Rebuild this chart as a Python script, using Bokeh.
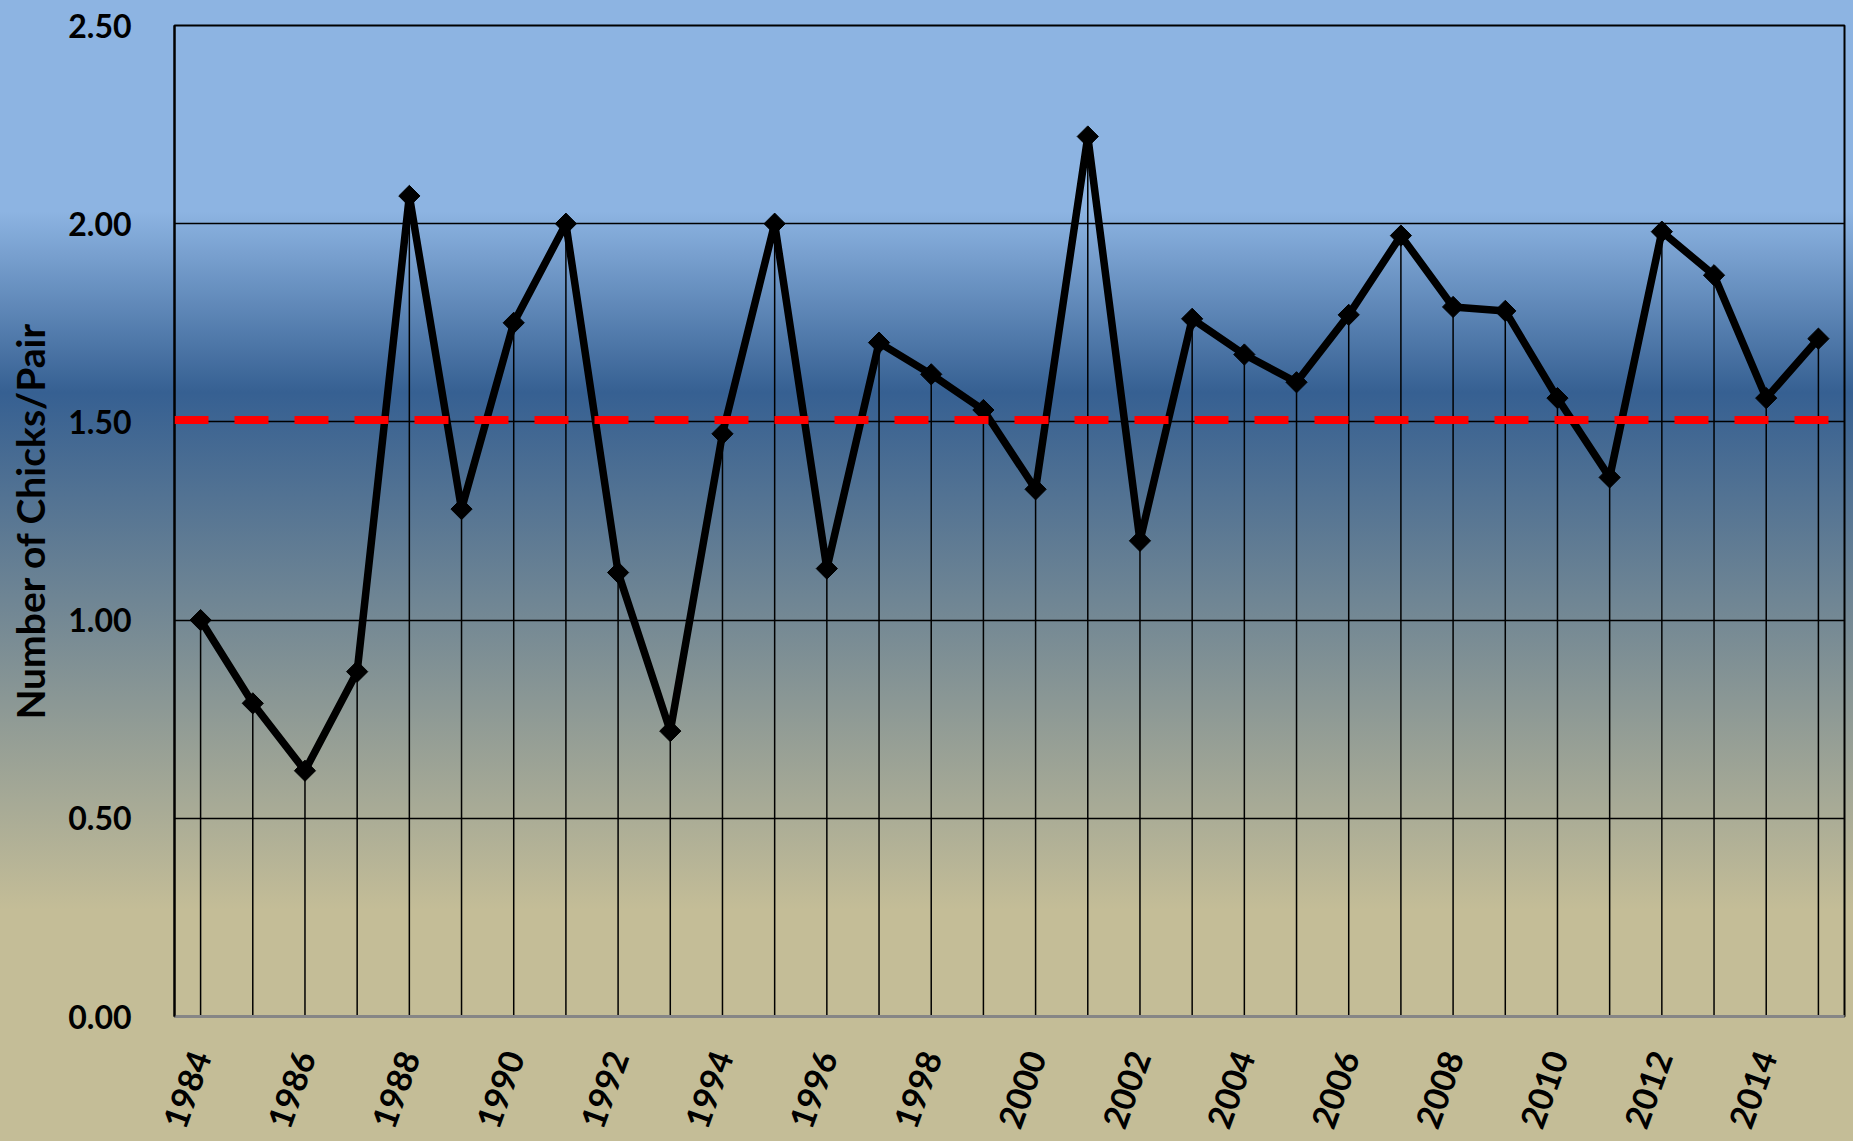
import math
from bokeh.plotting import figure
from bokeh.models import FixedTicker, Span, NumeralTickFormatter
from bokeh.embed import file_html
from bokeh.resources import INLINE

years = list(range(1984, 2016))
chicks_per_pair = [1.00, 0.79, 0.62, 0.87, 2.07, 1.28, 1.75, 2.00, 1.12, 0.72,
                   1.47, 2.00, 1.13, 1.70, 1.62, 1.53, 1.33, 2.22, 1.20, 1.76,
                   1.67, 1.60, 1.77, 1.97, 1.79, 1.78, 1.56, 1.36, 1.98, 1.87,
                   1.56, 1.71]
reference_level = 1.505
x_tick_years = list(range(1984, 2016, 2))
y_ticks = [0.0, 0.5, 1.0, 1.5, 2.0, 2.5]
y_label = "Number of Chicks/Pair"

FONT = "Lato"

p = figure(width=1853, height=1141, output_backend="svg", toolbar_location=None,
           x_range=(1983.5, 2015.5), y_range=(0, 2.5),
           min_border_left=174, min_border_right=9, min_border_top=25, min_border_bottom=125)

p.styles = {"background": "linear-gradient(to bottom, #8DB4E2 0%, #8DB4E2 18.5%, #366092 34.4%, #C4BD97 79.8%, #C4BD97 100%)"}
p.background_fill_color = None
p.border_fill_color = None
p.outline_line_color = "black"
p.outline_line_width = 2

# grids
p.xgrid.visible = False
p.ygrid.ticker = FixedTicker(ticks=y_ticks)
p.ygrid.grid_line_color = "black"
p.ygrid.grid_line_width = 1.5

# y axis
p.yaxis.ticker = FixedTicker(ticks=y_ticks)
p.yaxis.formatter = NumeralTickFormatter(format="0.00")
p.yaxis.major_label_text_font = FONT
p.yaxis.major_label_text_font_style = "bold"
p.yaxis.major_label_text_font_size = "32px"
p.yaxis.major_label_text_color = "black"
p.yaxis.major_tick_line_color = None
p.yaxis.minor_tick_line_color = None
p.yaxis.major_label_standoff = 37
p.yaxis.axis_line_color = "black"
p.yaxis.axis_line_width = 2
p.yaxis.axis_label = y_label
p.yaxis.axis_label_text_font = FONT
p.yaxis.axis_label_text_font_style = "bold"
p.yaxis.axis_label_text_font_size = "39px"
p.yaxis.axis_label_text_color = "black"
p.yaxis.axis_label_standoff = 12

# x axis
p.xaxis.ticker = FixedTicker(ticks=x_tick_years)
p.xaxis.major_label_orientation = math.radians(70)
p.xaxis.major_label_text_font = FONT
p.xaxis.major_label_text_font_style = "bold"
p.xaxis.major_label_text_font_size = "34px"
p.xaxis.major_label_text_color = "black"
p.xaxis.major_tick_line_color = None
p.xaxis.minor_tick_line_color = None
p.xaxis.major_label_standoff = 30
p.xaxis.axis_line_color = "#868686"
p.xaxis.axis_line_width = 3

# drop lines
p.segment(x0=years, y0=[0] * len(years), x1=years, y1=chicks_per_pair,
          line_color="black", line_width=1.5)

# reference dashed line
p.add_layout(Span(location=reference_level, dimension="width", line_color="#FF0000",
                  line_width=8, line_dash="34 26"))

# series
p.line(years, chicks_per_pair, line_color="black", line_width=7.5, line_join="round")
p.scatter(years, chicks_per_pair, marker="square", angle=math.pi / 4, size=15,
          fill_color="black", line_color="black")

open("out.html", "w").write(file_html(p, INLINE))
